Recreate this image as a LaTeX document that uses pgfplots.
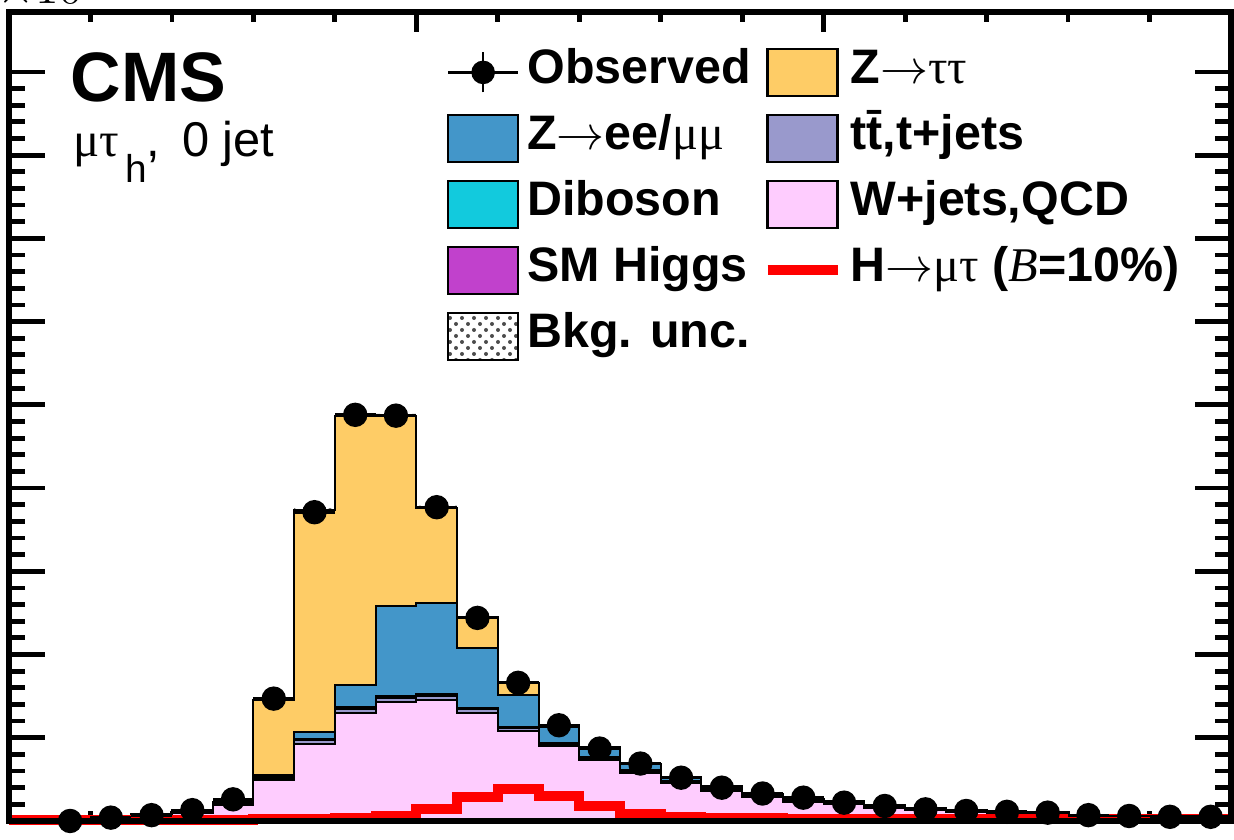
\documentclass[border=0pt]{standalone}
\usepackage{fontspec}
\setmainfont{Liberation Sans}
\newfontfamily\grk{Liberation Serif}
\usepackage{pgfplots}
\pgfplotsset{compat=1.18}
\usepackage{pgfplotstable}
\usepgfplotslibrary{fillbetween}
\usetikzlibrary{patterns}

\definecolor{zttc}{RGB}{254,204,102}
\definecolor{zllc}{RGB}{67,150,201}
\definecolor{vvc}{RGB}{18,202,221}
\definecolor{ttc}{RGB}{153,153,204}
\definecolor{wjc}{RGB}{254,204,254}
\definecolor{hc}{RGB}{193,65,204}

\pgfplotstableread{
x higgs wj tt vv zll ztt
0 0 0 0 0 0 0
10 0 0.003 0.001 0 0 0.001
20 0 0.015 0.005 0 0 0.005
30 0 0.06 0.01 0 0 0.01
40 0 0.10 0.015 0 0.005 0.01
50 0 0.19 0.01 0 0 0.03
60 0.005 0.485 0.03 0.01 0.02 0.90
70 0.005 0.925 0.04 0.015 0.08 2.67
80 0.005 1.295 0.05 0.02 0.26 3.24
90 0.005 1.425 0.05 0.02 1.08 2.28
100 0.005 1.445 0.05 0.02 1.10 1.14
110 0.005 1.295 0.04 0.02 0.72 0.37
120 0.005 1.075 0.04 0.015 0.375 0.15
130 0.005 0.895 0.03 0.01 0.19 0.02
140 0.005 0.725 0.025 0.01 0.115 0.005
150 0.005 0.575 0.02 0.01 0.07 0.005
160 0.005 0.455 0.02 0.005 0.045 0
170 0.005 0.35 0.02 0.005 0.035 0
180 0 0.29 0.015 0 0.025 0
190 0 0.23 0.01 0 0.02 0
200 0 0.20 0.01 0 0.03 0
210 0 0.16 0.01 0 0.02 0
220 0 0.13 0.01 0 0.01 0
230 0 0.11 0.01 0 0.01 0
240 0 0.09 0.01 0 0.01 0
250 0 0.08 0.005 0 0.005 0
260 0 0.06 0.005 0 0.005 0
270 0 0.05 0.005 0 0.005 0
280 0 0.04 0.005 0 0.005 0
290 0 0.035 0.005 0 0 0
300 0 0.035 0.005 0 0 0
}\stacktab

\pgfplotstableread{
x lo hi
0 0 0
10 0 0.01
20 0.015 0.035
30 0.07 0.09
40 0.12 0.14
50 0.22 0.24
60 1.42 1.48
70 3.705 3.765
80 4.84 4.90
90 4.83 4.89
100 3.73 3.79
110 2.425 2.475
120 1.64 1.68
130 1.135 1.165
140 0.87 0.90
150 0.675 0.695
160 0.52 0.54
170 0.405 0.425
180 0.32 0.34
190 0.25 0.27
200 0.23 0.25
210 0.18 0.20
220 0.14 0.16
230 0.12 0.14
240 0.10 0.12
250 0.08 0.10
260 0.06 0.08
270 0.05 0.07
280 0.04 0.06
290 0.03 0.05
300 0.03 0.05
}\bandtab

\pgfplotstableread{
x y
0 0.01
10 0.01
20 0.01
30 0.01
40 0.01
50 0.015
60 0.02
70 0.025
80 0.03
90 0.065
100 0.14
110 0.29
120 0.38
130 0.30
140 0.18
150 0.085
160 0.05
170 0.035
180 0.03
190 0.025
200 0.02
210 0.02
220 0.02
230 0.02
240 0.02
250 0.02
260 0.02
270 0.02
280 0.02
290 0.02
300 0.02
}\sigtab

\pgfplotstableread{
x y ex
15 0.00 5
25 0.04 5
35 0.07 5
45 0.13 5
55 0.26 5
65 1.47 5
75 3.71 5
85 4.88 5
95 4.87 5
105 3.77 5
115 2.44 5
125 1.66 5
135 1.15 5
145 0.87 5
155 0.69 5
165 0.52 5
175 0.40 5
185 0.33 5
195 0.28 5
205 0.22 5
215 0.18 5
225 0.14 5
235 0.12 5
245 0.11 5
255 0.10 5
265 0.07 5
275 0.06 5
285 0.05 5
295 0.05 5
}\datatab

\pgfplotsset{
  mybox/.style={legend image code/.code={\draw[fill=#1, draw=black, line width=0.6pt] (0pt,-5.9pt) rectangle (17.5pt,5.9pt);}},
  stk/.style={fill=#1, draw=black, line width=0.5pt, const plot mark left},
}

\begin{document}
\begin{tikzpicture}
\begin{axis}[
  scale only axis, width=305.5pt, height=202.25pt,
  xmin=0, xmax=300, ymin=0, ymax=9.72,
  stack plots=y,
  xtick={0,100,200,300}, minor x tick num=4, xticklabels={},
  ytick=\empty,
  tick align=inside, xtick pos=both,
  major tick length=5pt, minor tick length=2.5pt,
  every tick/.style={black, line width=1.2pt},
  axis line style={line width=1.5pt},
]
\addplot[stk=hc] table[x=x, y=higgs] {\stacktab} \closedcycle;
\addplot[stk=wjc] table[x=x, y=wj] {\stacktab} \closedcycle;
\addplot[stk=ttc] table[x=x, y=tt] {\stacktab} \closedcycle;
\addplot[stk=vvc] table[x=x, y=vv] {\stacktab} \closedcycle;
\addplot[stk=zllc] table[x=x, y=zll] {\stacktab} \closedcycle;
\addplot[stk=zttc] table[x=x, y=ztt] {\stacktab} \closedcycle;
\end{axis}

\begin{axis}[
  scale only axis, width=305.5pt, height=202.25pt,
  xmin=0, xmax=300, ymin=0, ymax=9.72,
  xtick=\empty,
  ytick={0,1,2,3,4,5,6,7,8,9}, minor y tick num=4, yticklabels={},
  tick align=inside, ytick pos=both,
  major tick length=9pt, minor tick length=4pt,
  every tick/.style={black, line width=1.2pt},
  axis line style={line width=1.5pt},
  clip=false, axis on top,
  legend columns=2, legend cell align=left,
  legend style={at={(0.3584,0.956)}, anchor=north west, draw=none, fill=none,
    inner sep=0pt, outer sep=0pt,
    font=\bfseries\fontsize{12.1}{14}\selectfont,
    row sep=4.1pt, column sep=2pt,
    nodes={inner sep=0pt, text height=8.7pt, text depth=3pt},
    /tikz/every even column/.style={column sep=3pt}},
]
\addlegendimage{legend image code/.code={
  \draw[black, line width=0.6pt] (0pt,0pt) -- (17.5pt,0pt);
  \draw[black, line width=0.6pt] (8.75pt,-5pt) -- (8.75pt,5pt);
  \fill[black] (8.75pt,0pt) circle (2.75pt);}}
\addlegendentry{Observed}
\addlegendimage{mybox=zttc}
\addlegendentry{Z$\rightarrow${\grk\mdseries ττ}}
\addlegendimage{mybox=zllc}
\addlegendentry{Z$\rightarrow$ee/{\grk\mdseries μμ}}
\addlegendimage{mybox=ttc}
\addlegendentry{t\={t},t+jets}
\addlegendimage{mybox=vvc}
\addlegendentry{Diboson}
\addlegendimage{mybox=wjc}
\addlegendentry{W+jets,QCD}
\addlegendimage{mybox=hc}
\addlegendentry{SM Higgs}
\addlegendimage{legend image code/.code={\draw[red, line width=2.5pt] (0pt,0pt) -- (17.5pt,0pt);}}
\addlegendentry{H$\rightarrow${\grk\mdseries μτ} ({\grk\mdseries\itshape B}=10\%)}
\addlegendimage{legend image code/.code={\draw[pattern=crosshatch dots, pattern color=black!70, draw=black, line width=0.6pt] (0pt,-5.9pt) rectangle (17.5pt,5.9pt);}}
\addlegendentry{Bkg. unc.}

\addplot[name path=up, draw=none, const plot mark left, forget plot] table[x=x, y=hi] {\bandtab};
\addplot[name path=lo, draw=none, const plot mark left, forget plot] table[x=x, y=lo] {\bandtab};
\addplot[pattern=crosshatch dots, pattern color=black!60, draw=none, forget plot] fill between[of=up and lo];

\addplot[red, line width=2.5pt, const plot mark left, forget plot] table[x=x, y=y] {\sigtab};

\addplot[black, only marks, mark=*, mark size=2.85pt, forget plot,
  error bars/.cd, x dir=both, x explicit, error mark=none,
  error bar style={line width=0.7pt, black}]
  table[x=x, y=y, x error=ex] {\datatab};

\coordinate (bbSW) at (rel axis cs:0,0);
\coordinate (bbNE) at (rel axis cs:1,1);

\node[anchor=base west, inner sep=0pt, font=\bfseries\fontsize{17.5}{18}\selectfont] at (rel axis cs:0.050,0.889) {CMS};
\node[anchor=base west, inner sep=0pt, font=\fontsize{12.2}{13}\selectfont] at (rel axis cs:0.052,0.821) {{\grk μτ}\hspace{1.5pt}\raisebox{-6.5pt}{\fontsize{9.7}{10}\selectfont h},\hspace{5.5pt}0 jet};
\node[anchor=base west, inner sep=0pt, font=\fontsize{12}{13}\selectfont] at ([xshift=-3pt, yshift=2pt]rel axis cs:0,1) {$\times10^{3}$};
\end{axis}
\pgfresetboundingbox
\useasboundingbox ([shift={(-2.25pt,-4.75pt)}]bbSW) rectangle ([shift={(0.75pt,3pt)}]bbNE);
\end{tikzpicture}
\end{document}
